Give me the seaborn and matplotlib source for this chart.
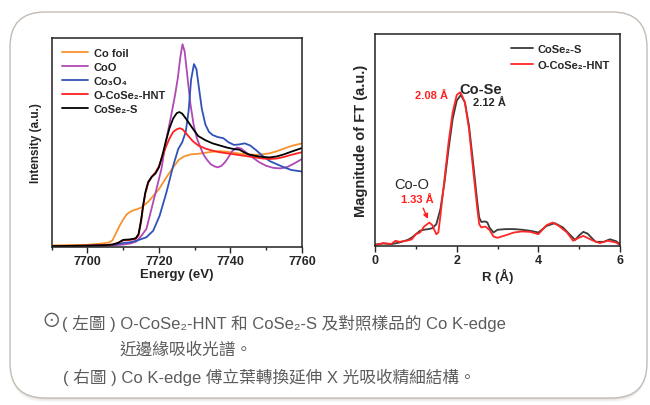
import numpy as np
import pandas as pd
import seaborn as sns
import matplotlib.pyplot as plt
from matplotlib.patches import FancyBboxPatch
from matplotlib.ticker import MultipleLocator

# ---- left panel: Co K-edge XANES (normalised intensity, a.u.)
co_foil_e = [7690, 7695, 7700, 7704, 7706, 7707, 7708, 7709, 7710, 7711, 7712, 7713,
             7714, 7715, 7716, 7717, 7718, 7720, 7722, 7724, 7725.5, 7727, 7729, 7731,
             7733, 7735, 7737, 7739, 7741, 7743, 7745, 7747, 7749, 7751, 7753, 7755,
             7757, 7760]
co_foil_i = [0.012, 0.015, 0.018, 0.03, 0.04, 0.06, 0.13, 0.2, 0.26, 0.31, 0.335, 0.35,
             0.36, 0.375, 0.4, 0.43, 0.47, 0.55, 0.66, 0.76, 0.83, 0.865, 0.885, 0.89,
             0.90, 0.91, 0.915, 0.91, 0.90, 0.89, 0.885, 0.88, 0.885, 0.895, 0.915, 0.94,
             0.965, 0.99]

coo_e = [7690, 7700, 7705, 7708, 7710, 7712, 7713.7, 7715, 7716.5, 7717.9, 7719.3,
         7720.7, 7721.6, 7722.5, 7723.5, 7724.5, 7725.3, 7726, 7726.6, 7727.2, 7728,
         7728.8, 7729.7, 7730.6, 7731.5, 7732.5, 7733.5, 7734.5, 7735.5, 7736.5, 7737.5,
         7738.5, 7739.5, 7740.5, 7741.8, 7743, 7744.5, 7746, 7748, 7750, 7752, 7754,
         7756, 7758, 7760]
coo_i = [0.005, 0.008, 0.01, 0.015, 0.02, 0.03, 0.05, 0.1, 0.17, 0.36, 0.55, 0.745,
         0.936, 1.1, 1.27, 1.45, 1.62, 1.82, 1.94, 1.87, 1.62, 1.37, 1.17, 1.04, 0.96,
         0.88, 0.83, 0.79, 0.77, 0.76, 0.775, 0.81, 0.86, 0.915, 0.95, 0.94, 0.9, 0.86,
         0.81, 0.775, 0.755, 0.75, 0.765, 0.8, 0.84]

co3o4_e = [7690, 7700, 7705, 7708, 7710, 7712, 7714, 7716.5, 7718.4, 7720.2, 7722.1,
           7724, 7725.4, 7726.5, 7727.5, 7728.3, 7729, 7729.8, 7730.5, 7731.2, 7732,
           7733, 7734, 7735, 7736.5, 7738, 7739.5, 7741, 7742.5, 7744, 7745.5, 7747,
           7749, 7751, 7753, 7755, 7757, 7760]
co3o4_i = [0.005, 0.008, 0.01, 0.02, 0.035, 0.042, 0.06, 0.09, 0.153, 0.297, 0.52,
           0.776, 0.936, 1.0, 1.1, 1.3, 1.6, 1.75, 1.7, 1.52, 1.32, 1.17, 1.1, 1.07,
           1.05, 1.04, 1.0, 0.975, 0.98, 0.99, 0.97, 0.93, 0.87, 0.82, 0.79, 0.76,
           0.735, 0.72]

hnt_e = [7690, 7700, 7705, 7707, 7708.5, 7710, 7712, 7713.5, 7714.3, 7715, 7715.6,
         7716.2, 7717, 7718, 7719, 7720, 7721, 7722, 7723, 7724, 7725, 7725.8, 7726.6,
         7727.5, 7728.5, 7729.5, 7731, 7733, 7735, 7737, 7739, 7741, 7743, 7745, 7747,
         7749, 7751, 7753, 7755, 7757, 7760]
hnt_i = [0.005, 0.01, 0.015, 0.02, 0.035, 0.06, 0.065, 0.075, 0.11, 0.24, 0.39, 0.51,
         0.61, 0.67, 0.71, 0.77, 0.87, 0.96, 1.04, 1.1, 1.125, 1.135, 1.125, 1.09, 1.05,
         1.01, 0.97, 0.94, 0.92, 0.905, 0.895, 0.885, 0.875, 0.865, 0.855, 0.845, 0.84,
         0.845, 0.86, 0.88, 0.905]

cose2_e = [7690, 7700, 7705, 7707, 7708.5, 7710, 7712, 7713.5, 7714.3, 7715, 7715.6,
           7716.2, 7717, 7718, 7719, 7720, 7721, 7722, 7723, 7724, 7725, 7725.7, 7726.5,
           7727.5, 7728.5, 7729.5, 7731, 7733, 7735, 7737, 7739, 7741, 7742.5, 7743.5,
           7745, 7747, 7749, 7751, 7753, 7755, 7757, 7760]
cose2_i = [0.005, 0.01, 0.015, 0.02, 0.035, 0.065, 0.07, 0.08, 0.12, 0.25, 0.4, 0.52,
           0.62, 0.67, 0.7, 0.76, 0.88, 1.02, 1.14, 1.23, 1.28, 1.29, 1.275, 1.23, 1.18,
           1.13, 1.06, 1.02, 0.99, 0.97, 0.95, 0.935, 0.93, 0.91, 0.885, 0.87, 0.86,
           0.855, 0.865, 0.885, 0.91, 0.945]

# ---- right panel: FT-EXAFS magnitude (a.u.)
ft_r_s = [0, 0.2, 0.4, 0.6, 0.8, 0.9, 1.0, 1.1, 1.2, 1.3, 1.4, 1.5, 1.6, 1.7, 1.8, 1.9,
          2.0, 2.1, 2.2, 2.3, 2.4, 2.5, 2.55, 2.6, 2.7, 2.75, 2.8, 2.9, 3.0, 3.2, 3.4,
          3.6, 3.8, 4.0, 4.2, 4.4, 4.6, 4.8, 4.9, 5.0, 5.1, 5.2, 5.4, 5.6, 5.75, 5.9, 6.0]
ft_cose2 = [0.06, 0.11, 0.08, 0.16, 0.28, 0.39, 0.55, 0.71, 0.76, 0.79, 0.83, 1.02,
            1.73, 2.99, 4.57, 5.98, 6.85, 7.12, 6.77, 5.67, 3.94, 2.13, 1.34, 1.13, 1.15,
            1.1, 0.87, 0.63, 0.76, 0.79, 0.79, 0.76, 0.71, 0.63, 0.94, 1.07, 0.87, 0.47,
            0.28, 0.5, 0.66, 0.58, 0.19, 0.19, 0.31, 0.22, 0.08]

ft_r_h = [0, 0.2, 0.4, 0.5, 0.6, 0.8, 0.9, 1.0, 1.1, 1.2, 1.33, 1.4, 1.5, 1.55, 1.6,
          1.7, 1.8, 1.9, 2.0, 2.08, 2.1, 2.2, 2.3, 2.4, 2.5, 2.55, 2.6, 2.7, 2.8, 2.9,
          3.0, 3.2, 3.4, 3.6, 3.8, 4.0, 4.2, 4.35, 4.5, 4.7, 4.85, 5.0, 5.1, 5.3, 5.5,
          5.7, 5.9, 6.0]
ft_hnt = [0.03, 0.13, 0.09, 0.24, 0.19, 0.25, 0.31, 0.55, 0.63, 0.91, 1.1, 0.98, 0.55,
          0.63, 1.42, 3.15, 4.88, 6.3, 7.12, 7.24, 7.21, 6.77, 5.51, 3.62, 1.81, 1.02,
          0.87, 0.91, 0.76, 0.44, 0.38, 0.5, 0.63, 0.68, 0.66, 0.55, 0.98, 1.1, 0.94,
          0.63, 0.24, 0.39, 0.47, 0.28, 0.13, 0.24, 0.16, 0.03]

caption_1 = "( 左圖 ) O-CoSe₂-HNT 和 CoSe₂-S 及對照樣品的 Co K-edge"
caption_2 = "近邊緣吸收光譜。"
caption_3 = "( 右圖 ) Co K-edge 傅立葉轉換延伸 X 光吸收精細結構。"

sns.set_style("ticks")
plt.rcParams['font.family'] = ['Liberation Sans', 'Noto Sans CJK TC', 'DejaVu Sans']
plt.rcParams['axes.linewidth'] = 1.1

fig = plt.figure(figsize=(6.5, 4.06), dpi=100)

# background card with rounded border and soft shadow
bg = fig.add_axes([0, 0, 1, 1], zorder=-5)
bg.set_xlim(0, 650)
bg.set_ylim(406, 0)
bg.axis('off')
for k, a in enumerate([0.05, 0.06, 0.08, 0.1]):
    bg.add_patch(FancyBboxPatch((10 + k * 0.5, 13 + 4 - k), 637 - k, 386,
                                boxstyle="round,pad=0,rounding_size=35",
                                fc='#808080', ec='none', alpha=a))
bg.add_patch(FancyBboxPatch((10, 13), 637, 386, boxstyle="round,pad=0,rounding_size=35",
                            fc='white', ec='#c4bcb3', lw=1.0))

bold = dict(fontweight='bold')
ax1 = fig.add_axes([0.0795, 0.390, 0.385, 0.514])
ax2 = fig.add_axes([0.577, 0.392, 0.377, 0.522])

lw = 1.3
sns.lineplot(x=co_foil_e, y=co_foil_i, ax=ax1, color='#f7922d', lw=lw, label='Co foil')
sns.lineplot(x=coo_e, y=coo_i, ax=ax1, color='#b049b4', lw=lw, label='CoO')
sns.lineplot(x=co3o4_e, y=co3o4_i, ax=ax1, color='#2f52b8', lw=lw, label='Co₃O₄')
sns.lineplot(x=hnt_e, y=hnt_i, ax=ax1, color='#ff2020', lw=lw, label='O-CoSe₂-HNT')
sns.lineplot(x=cose2_e, y=cose2_i, ax=ax1, color='black', lw=lw, label='CoSe₂-S')
ax1.set_xlim(7690, 7760)
ax1.set_ylim(0, 2.0)
ax1.xaxis.set_major_locator(MultipleLocator(20))
ax1.xaxis.set_minor_locator(MultipleLocator(10))
ax1.set_xlabel('Energy (eV)', fontsize=9.5, labelpad=1, **bold)
ax1.set_ylabel('Intensity (a.u.)', fontsize=8.5, labelpad=7, **bold)
ax1.legend(loc='upper left', frameon=False, prop=dict(size=8, weight='bold'),
           handlelength=2.4, handletextpad=0.5, labelspacing=0.35,
           borderaxespad=0.3, borderpad=0.6)

sns.lineplot(x=ft_r_s, y=ft_cose2, ax=ax2, color='#3a3a3a', lw=lw, label='CoSe₂-S')
sns.lineplot(x=ft_r_h, y=ft_hnt, ax=ax2, color='#ff2626', lw=lw, label='O-CoSe₂-HNT')
ax2.set_xlim(0, 6)
ax2.set_ylim(0, 10)
ax2.xaxis.set_major_locator(MultipleLocator(2))
ax2.xaxis.set_minor_locator(MultipleLocator(1))
ax2.set_xlabel('R (Å)', fontsize=9.5, labelpad=1, **bold)
ax2.set_ylabel('Magnitude of FT (a.u.)', fontsize=10.5, labelpad=5, **bold)
ax2.legend(loc='upper right', frameon=False, prop=dict(size=8, weight='bold'),
           handlelength=2.0, handletextpad=0.4, labelspacing=0.55, borderaxespad=0.5)

ax2.text(2.58, 7.4, 'Co-Se', fontsize=10.5, ha='center', va='center', **bold)
ax2.text(2.8, 6.77, '2.12 Å', fontsize=8, ha='center', va='center', **bold)
ax2.text(1.38, 7.12, '2.08 Å', fontsize=8, ha='center', va='center', color='#ff2020', **bold)
ax2.text(0.9, 2.91, 'Co-O', fontsize=10.5, ha='center', va='center')
ax2.text(1.04, 2.2, '1.33 Å', fontsize=8, ha='center', va='center', color='#ff2020', **bold)
ax2.annotate('', xy=(1.32, 1.15), xytext=(1.15, 1.9),
             arrowprops=dict(arrowstyle='-|>', color='#ff2020', lw=1.0, mutation_scale=7))

for ax in (ax1, ax2):
    ax.set_yticks([])
    ax.tick_params(axis='x', which='major', length=4, width=1, labelsize=9, pad=2)
    ax.tick_params(axis='x', which='minor', length=2.5, width=1)
    for t in ax.get_xticklabels():
        t.set_fontweight('bold')
    for s in ax.spines.values():
        s.set_color('#222222')

cap = dict(fontsize=12, color='#5c5c5c', va='center', ha='left')
bg.text(41, 323, '⊙', fontsize=14, color='#5c5c5c', va='center', ha='left')
bg.text(62, 323, caption_1, **cap)
bg.text(120, 350, caption_2, **cap)
bg.text(63, 377, caption_3, **cap)

fig.savefig('out.png', dpi=100)
